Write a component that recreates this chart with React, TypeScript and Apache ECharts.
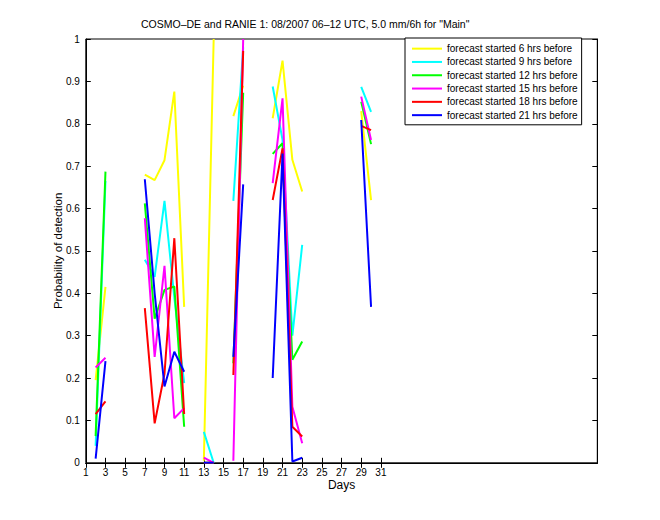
import React, { useEffect, useRef } from "react";
import * as echarts from "echarts";

const days = [1,2,3,4,5,6,7,8,9,10,11,12,13,14,15,16,17,18,19,20,21,22,23,24,25,26,27,28,29,30,31];
const xTicks = [1,3,5,7,9,11,13,15,17,19,21,23,25,27,29,31];

const seriesNames = [
  "forecast started 6 hrs before",
  "forecast started 9 hrs before",
  "forecast started 12 hrs before",
  "forecast started 15 hrs before",
  "forecast started 18 hrs before",
  "forecast started 21 hrs before",
];
const seriesColors = ["#ffff00", "#00ffff", "#00ff00", "#ff00ff", "#ff0000", "#0000ff"];

const N = null;
//                1    2      3      4  5  6  7      8      9      10     11     12 13     14    15 16     17     18 19 20     21     22     23     24 25 26 27 28 29     30     31
const h6  = [N, 0.195, 0.415, N, N, N, 0.680, 0.667, 0.714, 0.876, 0.368, N, 0.005, 1.000, N, 0.818, 0.890, N, N, 0.813, 0.949, 0.715, 0.640, N, N, N, N, N, 0.830, 0.620, N];
const h9  = [N, 0.040, 0.665, N, N, N, 0.479, 0.439, 0.618, 0.390, 0.188, N, 0.073, 0.000, N, 0.618, 0.980, N, N, 0.888, 0.762, 0.300, 0.514, N, N, N, N, N, 0.887, 0.828, N];
const h12 = [N, 0.063, 0.687, N, N, N, 0.612, 0.340, 0.408, 0.416, 0.085, N, 0.000, 0.000, N, 0.235, 0.873, N, N, 0.729, 0.754, 0.243, 0.286, N, N, N, N, N, 0.852, 0.752, N];
const h15 = [N, 0.225, 0.248, N, N, N, 0.577, 0.250, 0.465, 0.105, 0.129, N, 0.012, 0.000, N, 0.005, 1.000, N, N, 0.660, 0.860, 0.132, 0.046, N, N, N, N, N, 0.864, 0.762, N];
const h18 = [N, 0.115, 0.145, N, N, N, 0.365, 0.093, 0.210, 0.530, 0.115, N, 0.000, 0.000, N, 0.207, 0.972, N, N, 0.620, 0.742, 0.085, 0.062, N, N, N, N, N, 0.795, 0.785, N];
const h21 = [N, 0.010, 0.240, N, N, N, 0.669, 0.400, 0.180, 0.262, 0.215, N, 0.000, 0.000, N, 0.250, 0.657, N, N, 0.200, 0.730, 0.003, 0.012, N, N, N, N, N, 0.809, 0.368, N];

const allValues = [h6, h9, h12, h15, h18, h21];

const FONT = "Liberation Sans, Arial, Helvetica, sans-serif";

export default function App() {
  const ref = useRef<HTMLDivElement>(null);
  useEffect(() => {
    if (!ref.current) return;
    const chart = echarts.init(ref.current, undefined, { renderer: "svg" });
    const tickCommon = { inside: true, length: 5, lineStyle: { color: "#000" } };
    chart.setOption({
      animation: false,
      backgroundColor: "#fff",
      textStyle: { fontFamily: FONT },
      title: {
        text: 'COSMO\u2013DE and RANIE 1: 08/2007 06\u201312 UTC, 5.0 mm/6h for "Main"',
        left: 141,
        top: 18,
        padding: 0,
        textStyle: { fontSize: 10.5, fontWeight: "normal", color: "#000", fontFamily: FONT },
      },
      legend: {
        orient: "vertical",
        left: 405,
        top: 38,
        padding: [4, 4, 3, 7],
        itemGap: 0,
        itemWidth: 30,
        itemHeight: 2,
        icon: "rect",
        backgroundColor: "#fff",
        borderColor: "#000",
        borderWidth: 1,
        borderRadius: 0,
        textStyle: { fontSize: 10, color: "#000", lineHeight: 13.3, fontFamily: FONT },
        data: seriesNames,
      },
      grid: {
        left: 85.8,
        right: 62.7,
        top: 39,
        bottom: 57.2,
        show: true,
        borderColor: "#000",
        borderWidth: 1,
        backgroundColor: "#fff",
      },
      xAxis: [
        {
          type: "value",
          min: 1,
          max: 53,
          interval: 2,
          name: "Days",
          nameLocation: "middle",
          nameGap: 16,
          nameMoveOverlap: false,
          nameTextStyle: { fontSize: 12, color: "#000" },
          axisLine: { lineStyle: { color: "#000" } },
          axisTick: { ...tickCommon, customValues: xTicks },
          axisLabel: { color: "#000", fontSize: 10, margin: 5, customValues: xTicks },
          splitLine: { show: false },
        },
        {
          type: "value",
          position: "top",
          min: 1,
          max: 53,
          interval: 2,
          axisLine: { lineStyle: { color: "#000" } },
          axisTick: { ...tickCommon, customValues: xTicks },
          axisLabel: { show: false },
          splitLine: { show: false },
        },
      ],
      yAxis: [
        {
          type: "value",
          min: 0,
          max: 1,
          interval: 0.1,
          name: "Probability of detection",
          nameLocation: "middle",
          nameGap: 22,
          nameMoveOverlap: false,
          nameTextStyle: { fontSize: 11.5, color: "#000" },
          axisLine: { show: true, lineStyle: { color: "#000" } },
          axisTick: tickCommon,
          axisLabel: { color: "#000", fontSize: 10, margin: 6 },
          splitLine: { show: false },
        },
        {
          type: "value",
          position: "right",
          min: 0,
          max: 1,
          interval: 0.1,
          axisLine: { show: true, lineStyle: { color: "#000" } },
          axisTick: tickCommon,
          axisLabel: { show: false },
          splitLine: { show: false },
        },
      ],
      series: seriesNames.map((name, i) => ({
        name,
        type: "line",
        xAxisIndex: 0,
        yAxisIndex: 0,
        data: days.map((d, k) => [d, allValues[i][k]]),
        showSymbol: false,
        symbol: "none",
        connectNulls: false,
        lineStyle: { width: 2, color: seriesColors[i] },
        itemStyle: { color: seriesColors[i] },
      })),
    });
    return () => chart.dispose();
  }, []);
  return (
    <div
      ref={ref}
      style={{ position: "absolute", left: 0, top: 0, width: 660, height: 520 }}
    />
  );
}
